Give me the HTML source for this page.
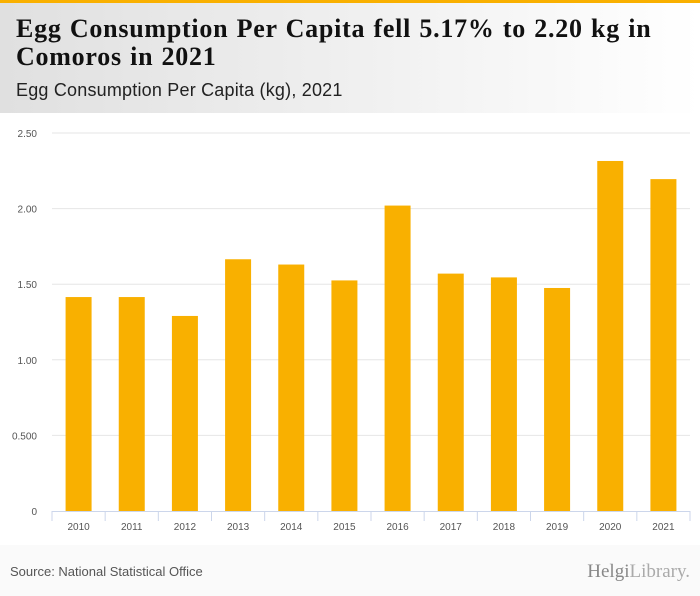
<!DOCTYPE html>
<html><head><meta charset="utf-8"><style>
body{margin:0;width:700px;height:596px;background:#fafafa;font-family:"Liberation Sans",sans-serif;position:relative;overflow:hidden}
#top{position:absolute;left:0;top:0;width:700px;height:3px;background:#f9b000}
#hdr{position:absolute;left:0;top:3px;width:700px;height:110px;background:linear-gradient(90deg,#e0e0e0,#ffffff)}
#title{position:absolute;left:16px;top:15px;font-family:"Liberation Serif",serif;font-weight:bold;font-size:26px;line-height:28px;color:#111;letter-spacing:0.75px;word-spacing:1px}
#sub{position:absolute;left:16px;top:80px;font-size:18px;color:#222;letter-spacing:0.2px}
#src{position:absolute;left:10px;top:564px;font-size:13px;color:#555}
#logo{position:absolute;right:10px;top:561px;font-family:"Liberation Serif",serif;font-size:19px;color:#888}
svg{position:absolute;left:0;top:0}
</style></head><body>
<div id="top"></div>
<div id="hdr"></div>
<div id="title">Egg Consumption Per Capita fell 5.17% to 2.20 kg in<br>Comoros in 2021</div>
<div id="sub">Egg Consumption Per Capita (kg), 2021</div>
<svg id="chart" width="700" height="596"></svg>
<div id="src">Source: National Statistical Office</div>
<div id="logo">Helgi<span style="color:#aaa">Library.</span></div>
<script>
const categories=["2010","2011","2012","2013","2014","2015","2016","2017","2018","2019","2020","2021"];
const values=[1.415,1.415,1.29,1.665,1.63,1.525,2.02,1.57,1.545,1.475,2.315,2.195];
const yTicks=[0,0.5,1,1.5,2,2.5];
const yTickLabels=["0","0.500","1.00","1.50","2.00","2.50"];
const NS="http://www.w3.org/2000/svg";
const svg=document.getElementById('chart');
const x0=52,x1=690,y0=511,yTop=133,yMax=2.5;
const band=(x1-x0)/categories.length;
const y=v=>y0-(v/yMax)*(y0-yTop);
const xc=i=>x0+band*(i+0.5);
function mk(t,a){const e=document.createElementNS(NS,t);for(const k in a)e.setAttribute(k,a[k]);svg.appendChild(e);return e;}
const bg=mk('rect',{x:0,y:113,width:700,height:432,fill:'#fff'});


yTicks.forEach((t,i)=>{
  if(t>0){const g=mk('line',{x1:x0,x2:x1,y1:y(t),y2:y(t),stroke:'#e6e6e6','stroke-width':1});
  
  }
  const l=mk('text',{x:37,y:y(t)+4,'text-anchor':'end','font-size':10,fill:'#555'});
  l.textContent=yTickLabels[i];
  
  
});
values.forEach((v,i)=>{
  const r=mk('rect',{x:xc(i)-13,y:y(v),width:26,height:y0-y(v),fill:'#f9b000'});
  
  
  const l=mk('text',{x:xc(i),y:530,'text-anchor':'middle','font-size':10,fill:'#555'});
  l.textContent=categories[i];
  
  
});
const ax=mk('line',{x1:x0,x2:x1,y1:y0+0.5,y2:y0+0.5,stroke:'#ccd6eb'});


for(let i=0;i<=categories.length;i++){
  const t=mk('line',{x1:x0+band*i,x2:x0+band*i,y1:y0,y2:y0+10,stroke:'#ccd6eb'});
  
  
}
</script>
</body></html>
